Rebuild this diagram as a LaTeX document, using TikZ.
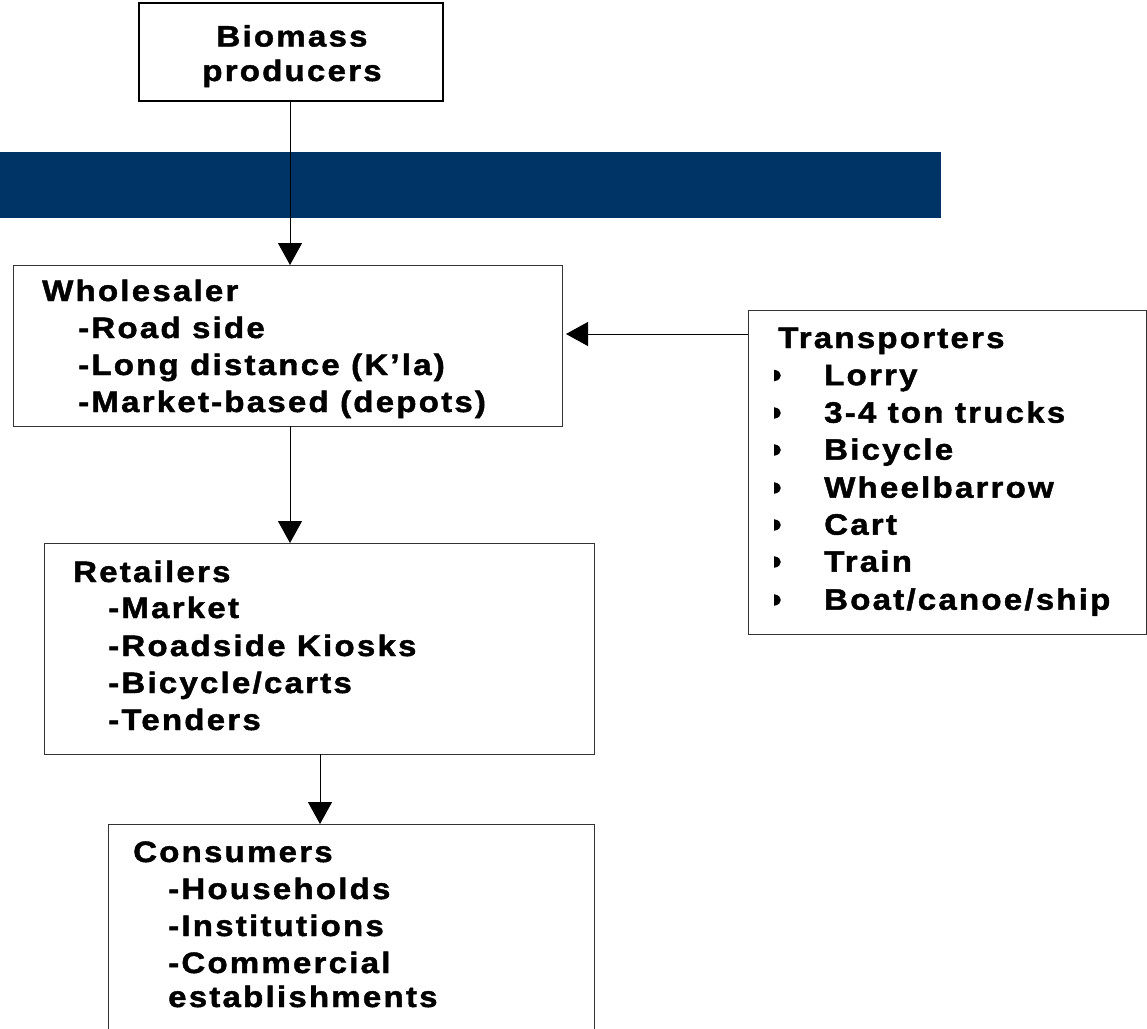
\documentclass[tikz,border=0pt]{standalone}
\usepackage{fontspec}
\setmainfont{Liberation Sans}[LetterSpace=7.5, BoldFeatures={FakeBold=1.5, FakeStretch=1.12}]
\usetikzlibrary{arrows.meta}
\definecolor{band}{RGB}{0,52,102}
\tikzset{
  box/.style={draw=black!80, line width=1pt, fill=white, inner sep=0pt, anchor=north west},
  txt/.style={anchor=base west, inner sep=0pt, font=\bfseries\fontsize{29.5}{33}\selectfont},
  ctxt/.style={anchor=base, inner sep=0pt, font=\bfseries\fontsize{29.5}{33}\selectfont},
  flow/.style={draw=black, line width=1pt, -{Triangle[width=24pt,length=22pt]}},
}
\begin{document}
\begin{tikzpicture}[x=1pt,y=-1pt]
\useasboundingbox (0,0) rectangle (1147,1028);
\clip (0,0) rectangle (1147,1028);
\fill[band] (0,152) rectangle (941,218);

% boxes
\node[box, line width=2pt, draw=black, minimum width=304pt, minimum height=98pt] (bio) at (138,2) {};
\node[box, minimum width=549pt, minimum height=161pt] (whole) at (13,265) {};
\node[box, minimum width=398pt, minimum height=324pt] (trans) at (748,310) {};
\node[box, minimum width=550pt, minimum height=211pt] (ret) at (44,543) {};
\node[box, minimum width=486pt, minimum height=240pt] (cons) at (108,824) {};

% texts
\node[ctxt] (b1) at (292,46.5) {Biomass};
\node[ctxt] (b2) at (292,81) {producers};

\node[txt] (w0) at (42,301) {Wholesaler};
\node[txt] (w1) at (78,338) {-Road side};
\node[txt] (w2) at (78,375) {-Long distance (K’la)};
\node[txt] (w3) at (78,412) {-Market-based (depots)};

\node[txt] (t0) at (778,348) {Transporters};
\foreach \y/\t [count=\i] in {375.5/Lorry, 413/3-4 ton trucks, 450/Bicycle, 488/Wheelbarrow, 525/Cart, 562/Train, 600/Boat{/}canoe{/}ship}{
  \node[txt] (t\i) at (824,\y+9.7) {\t};
  \fill (774,\y-5.8) .. controls (779,\y-5) and (780.8,\y-2.5) .. (780.8,\y)
        .. controls (780.8,\y+2.5) and (779,\y+5) .. (774,\y+5.8) -- cycle;
}

\node[txt] (r0) at (73,582) {Retailers};
\node[txt] (r1) at (108,618) {-Market};
\node[txt] (r2) at (108,656) {-Roadside Kiosks};
\node[txt] (r3) at (108,693) {-Bicycle/carts};
\node[txt] (r4) at (108,730) {-Tenders};

\node[txt] (c0) at (133,862) {Consumers};
\node[txt] (c1) at (168,899) {-Households};
\node[txt] (c2) at (168,936) {-Institutions};
\node[txt] (c3) at (168,973) {-Commercial};
\node[txt] (c4) at (168,1007) {establishments};

% connectors
\coordinate (a1) at (290,100);
\draw[flow] (a1) -- (a1 |- whole.north);
\coordinate (a2) at (290,426);
\draw[flow] (a2) -- (a2 |- ret.north);
\coordinate (a3) at (320,754);
\draw[flow] (a3) -- (a3 |- cons.north);
\coordinate (tw) at (748,334);
\draw[flow, shorten >=3pt] (tw) -- (tw -| whole.east);
\end{tikzpicture}
\end{document}
